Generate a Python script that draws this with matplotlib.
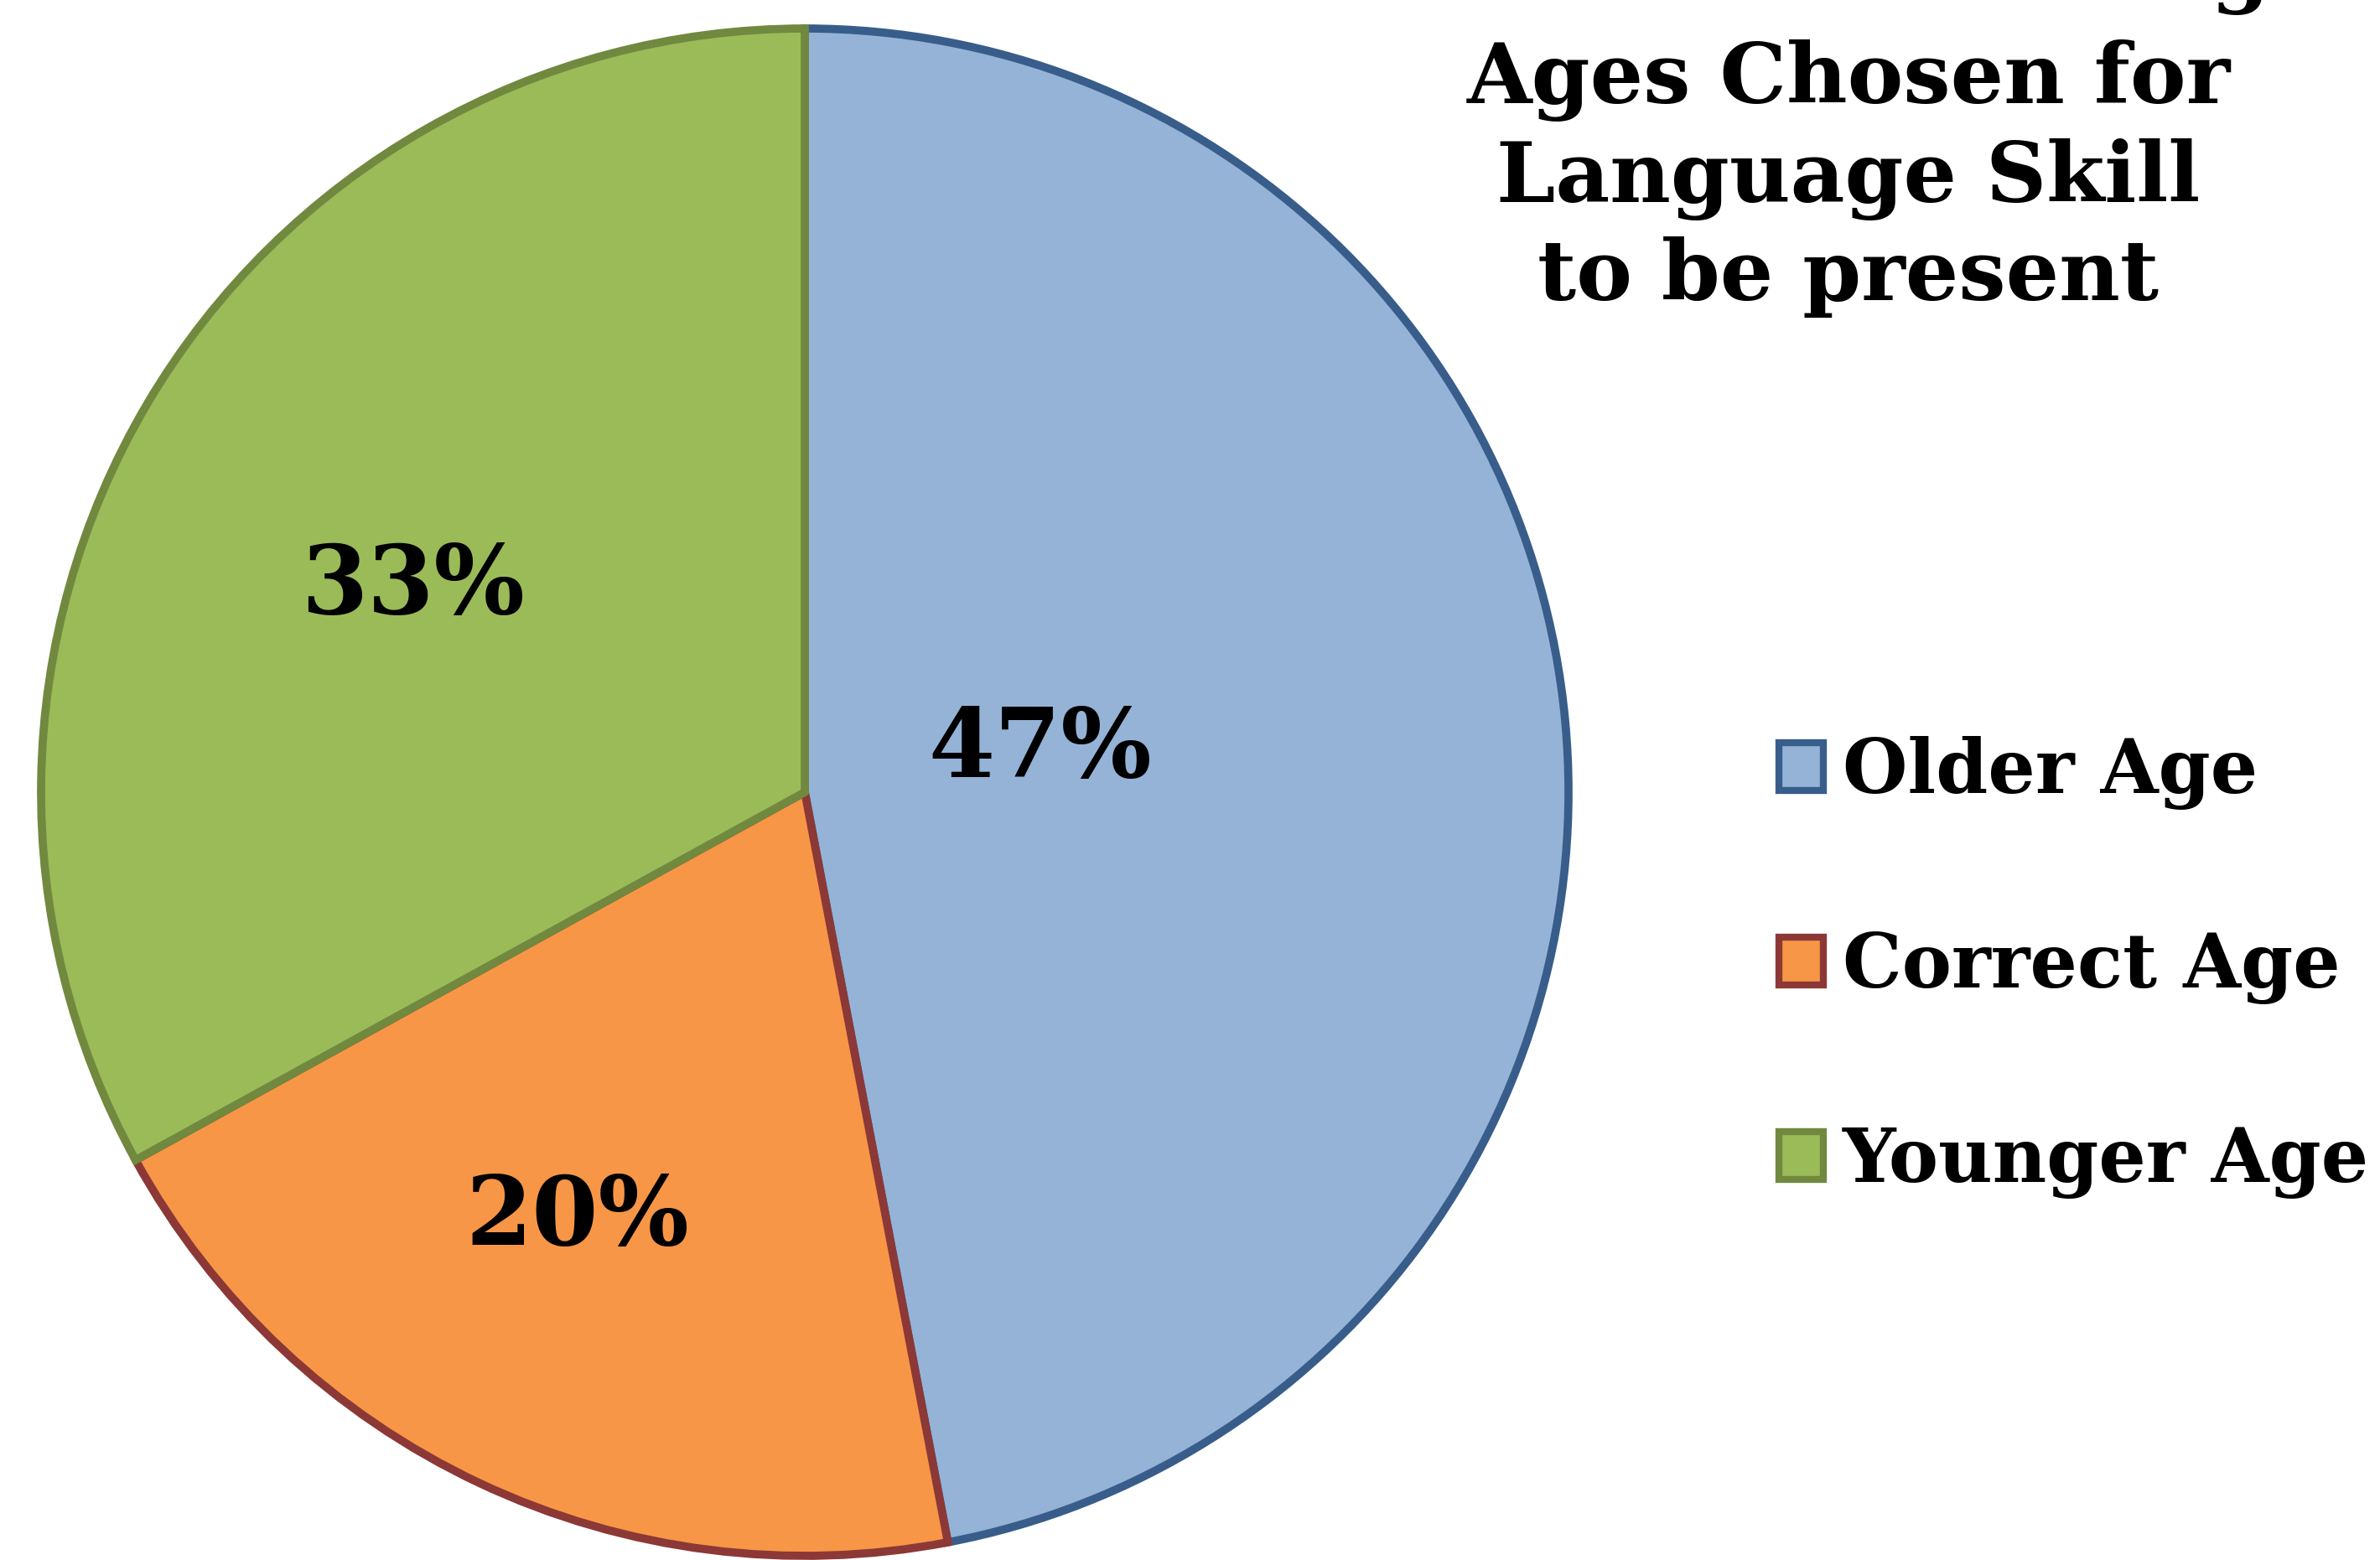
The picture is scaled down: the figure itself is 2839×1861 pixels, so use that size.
import numpy as np
import matplotlib
matplotlib.use('Agg')
import matplotlib.pyplot as plt

# 数据
labels = ['Older Age', 'Correct Age', 'Younger Age']
values = [47, 20, 33]
fill_colors = ['#95B3D7', '#F79646', '#9BBB59']
edge_colors = ['#385D8A', '#8C3836', '#71893F']
title_lines = ['Number of Wrong', 'Ages Chosen for', 'Language Skill', 'to be present']
label_dist = [0.313, 0.633, 0.579]   # 百分比标签离圆心的距离
label_shift = [4.5, -2.9, 3.0]       # 标签角度微调（度）

plt.rcParams['font.family'] = ['DejaVu Serif']
plt.rcParams['font.weight'] = 'bold'

fig = plt.figure(figsize=(28.39, 18.61), dpi=100)
W, H = 2839, 1861
cx, cy, r = 960, 945, 911
ax = fig.add_axes([(cx - r) / W, (H - cy - r) / H, 2 * r / W, 2 * r / H])

wedges, _ = ax.pie(values, startangle=90, counterclock=False, colors=fill_colors,
                   wedgeprops=dict(linewidth=7, joinstyle='miter'))
for w, ec in zip(wedges, edge_colors):
    w.set_edgecolor(ec)

# 百分比标签
for w, v, d, s in zip(wedges, values, label_dist, label_shift):
    ang = np.deg2rad((w.theta1 + w.theta2) / 2 + s)
    ax.text(d * np.cos(ang), d * np.sin(ang), '%d%%' % v, ha='center', va='center',
            fontsize=82, fontweight='bold')

ax.set_xlim(-1, 1)
ax.set_ylim(-1, 1)
ax.axis('off')

# 标题（第一行在画面上沿之外，只露出g的下半部）
baselines = [-4, 123, 241, 358]
for line, b in zip(title_lines, baselines):
    fig.text(2205 / W, (H - b) / H, line, ha='center', va='baseline', fontsize=72, fontweight='bold')

leg = ax.legend(wedges, labels, loc='upper left', bbox_to_anchor=(2122 / W, 1 - 878 / H),
                bbox_transform=fig.transFigure, frameon=False, fontsize=64,
                handlelength=0.6, handleheight=0.6, handletextpad=0.25, labelspacing=1.62,
                borderpad=0, borderaxespad=0)
for t in leg.get_texts():
    t.set_fontweight('bold')
for h in leg.legend_handles:
    h.set_linewidth(6)

fig.savefig('out.png', dpi=100)
